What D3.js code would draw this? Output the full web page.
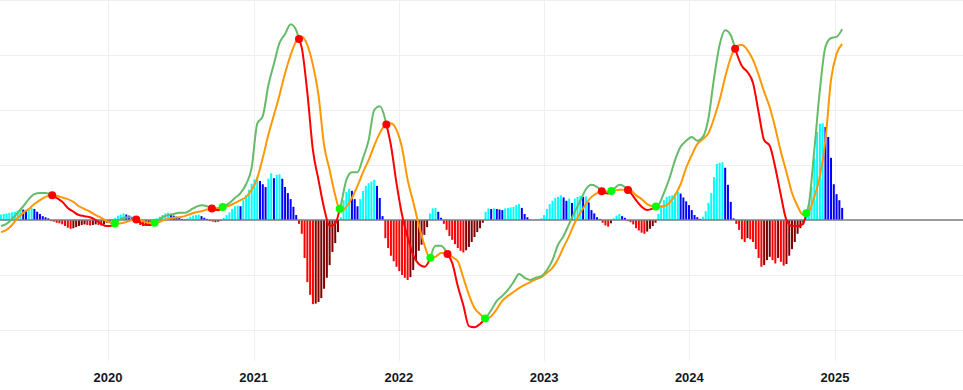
<!DOCTYPE html>
<html><head><meta charset="utf-8">
<script src="https://cdn.jsdelivr.net/npm/d3@7"></script>
<style>html,body{margin:0;padding:0;background:#fff;} svg{display:block;}</style>
</head><body><svg id="chart" width="963" height="390"></svg>
<script>
// ---- data ----
const histStart = "2019-04-07";          // first weekly histogram bar
const histogram = [
 1.0,1.1,1.2,1.3,1.4,1.5,1.7,2.0,1.9,1.8,
 2.1,2.2,2.0,1.5,1.1,0.7,0.5,0.3,-0.2,-0.3,
 -0.5,-0.6,-0.8,-1.1,-1.4,-1.6,-1.5,-1.3,-1.1,-0.9,
 -0.8,-0.9,-1.0,-0.9,-0.8,-0.9,-1.0,-0.8,-0.5,-0.3,
 0.2,0.4,0.8,1.0,1.2,1.0,0.8,0.4,0.1,-0.5,
 -0.9,-1.1,-1.0,-0.7,-0.5,-0.2,0.3,0.6,0.9,1.2,
 1.3,1.0,0.8,0.6,0.4,0.2,0.1,0.3,0.6,0.8,
 0.9,1.0,0.7,0.4,0.2,-0.2,-0.3,-0.4,-0.3,-0.1,
 0.4,0.9,1.4,2.0,2.5,2.6,2.5,3.6,4.5,5.5,
 6.6,7.4,7.8,7.1,6.5,6.0,7.5,8.5,7.6,8.2,
 8.3,7.5,6.0,4.9,3.8,2.4,0.9,-0.7,-2.5,-6.9,
 -11.3,-13.6,-15.3,-15.2,-14.9,-14.2,-12.5,-10.5,-8.2,-5.8,
 -4.2,-2.2,0.5,3.6,5.1,5.7,5.3,3.8,2.5,3.8,
 5.3,6.2,6.7,7.0,7.3,6.2,4.0,0.7,-3.3,-5.1,
 -6.5,-7.5,-8.5,-9.3,-10.0,-10.5,-10.9,-10.4,-9.1,-7.3,
 -5.6,-4.5,-2.7,-1.3,1.2,2.1,2.2,1.5,0.4,-0.7,
 -1.8,-2.9,-3.6,-4.4,-5.1,-5.6,-5.9,-5.5,-4.9,-4.0,
 -3.1,-2.2,-1.5,-0.5,1.5,2.1,2.0,2.1,2.0,1.9,
 1.8,2.1,2.2,2.3,2.4,2.7,2.9,2.2,1.1,0.5,
 0.1,0.0,0.1,0.2,0.3,0.9,2.0,2.9,3.5,4.0,
 4.2,4.5,4.1,3.5,3.9,3.1,3.9,4.2,4.4,4.2,
 4.3,3.2,1.8,1.2,0.5,0.2,-0.5,-1.0,-1.2,-0.6,
 0.3,0.8,1.1,0.7,0.4,-0.2,-0.4,-0.8,-1.5,-1.9,
 -2.3,-2.5,-2.1,-1.6,-1.1,-0.5,1.1,2.7,3.6,4.2,
 4.4,4.5,4.8,5.1,4.8,4.1,3.4,2.7,1.8,0.9,
 0.5,0.2,0.6,1.6,3.1,4.9,7.8,10.2,10.4,10.5,
 9.5,6.4,3.3,0.3,-0.7,-1.8,-3.5,-4.0,-3.3,-3.5,
 -4.0,-5.3,-6.9,-8.5,-8.2,-7.3,-6.7,-7.3,-7.9,-6.9,
 -7.6,-8.3,-8.0,-6.5,-5.3,-4.0,-2.5,-1.5,-0.5,0.9,
 2.9,6.0,11.3,16.0,17.5,17.6,16.9,15.1,11.3,6.5,
 4.7,3.6,2.2
];
// fortnightly samples, starting on histStart
const macdLine = [
 -1.1,-0.7,0.2,1.3,2.5,3.8,4.7,4.9,4.9,4.6,
 4.0,3.3,2.2,1.5,0.9,0.7,0.5,0.0,-0.7,-1.1,
 -1.0,-0.2,0.4,0.5,0.3,-0.5,-0.9,-0.9,-0.2,0.5,
 0.9,1.1,1.3,1.3,1.8,2.4,2.7,2.5,2.0,1.8,
 2.5,3.1,4.0,4.9,6.5,9.5,17.5,18.9,24.5,28.4,
 32.2,33.8,35.6,34.5,31.3,23.1,12.7,7.3,2.2,-1.1,
 -0.7,2.7,7.3,8.7,8.7,11.3,14.5,20.0,20.7,18.2,
 13.6,6.7,0.9,-3.1,-6.4,-8.0,-8.5,-7.1,-4.7,-4.7,
 -5.9,-7.8,-12.0,-15.5,-19.3,-19.5,-18.9,-17.8,-16.4,-14.7,
 -13.8,-12.7,-11.3,-9.8,-10.5,-10.9,-10.5,-10.2,-9.1,-7.3,
 -4.5,-2.9,-0.7,1.5,3.5,5.6,6.4,6.0,5.1,4.8,
 5.6,6.4,6.0,5.0,3.6,2.4,1.8,2.1,2.7,4.9,
 7.6,10.9,13.3,14.4,15.1,14.4,15.1,18.5,25.8,31.8,
 34.5,33.6,30.5,28.0,26.9,24.9,19.6,14.5,13.5,9.5,
 4.5,0.0,-1.1,-1.1,-0.7,2.7,12.7,23.6,31.5,33.1,
 33.3,34.7
];
const signalLine = [
 -2.2,-1.8,-0.9,0.4,1.3,2.0,2.9,3.6,4.2,4.5,
 4.4,4.1,3.8,3.3,2.5,2.0,1.5,0.9,0.4,-0.2,
 -0.6,-0.7,-0.5,-0.2,0.1,0.0,-0.4,-0.5,-0.5,-0.1,
 0.2,0.4,0.5,0.7,1.1,1.4,1.6,1.9,2.1,2.2,
 2.4,2.6,3.1,3.6,4.2,5.5,7.6,11.3,15.5,19.1,
 22.7,26.7,30.0,32.5,33.3,31.8,28.2,22.7,13.6,9.1,
 4.5,1.5,2.4,4.0,6.2,8.7,10.9,13.5,15.8,17.3,
 17.6,16.4,13.1,7.3,3.3,-0.9,-4.5,-6.9,-6.7,-6.0,
 -6.1,-6.7,-7.5,-10.5,-13.6,-16.0,-17.1,-18.0,-17.5,-16.2,
 -14.7,-13.8,-13.1,-12.4,-11.8,-11.3,-10.8,-10.4,-9.6,-8.7,
 -7.1,-4.9,-2.9,-0.5,1.3,2.9,4.2,4.9,5.3,5.2,
 5.3,5.5,5.5,5.4,4.5,3.8,2.9,2.5,2.4,2.5,
 3.1,4.5,6.5,9.5,11.8,13.8,14.7,15.8,18.5,21.8,
 26.0,29.5,31.6,31.8,30.9,29.1,26.4,23.3,20.5,16.7,
 12.4,8.7,4.9,2.5,0.9,1.5,4.2,8.0,14.5,25.5,
 30.2,32.0
];
const yearTicks = ["2020","2021","2022","2023","2024","2025"];
const gridLevels = [-20,-10,10,20,30,40];

// ---- scales ----
const W = 963, H = 390, plotBottom = 361;
const parse = d3.utcParse("%Y-%m-%d");
const start = parse(histStart);
const histDates = histogram.map((_, i) => d3.utcDay.offset(start, 7 * i));
const lineDates = macdLine.map((_, j) => d3.utcDay.offset(start, 14 * j));
const x = d3.scaleUtc().domain([parse("2020-01-01"), parse("2025-01-01")]).range([108, 835]);
const y = d3.scaleLinear().domain([0, 40]).range([220, 0]);

const svg = d3.select("#chart");
svg.append("rect").attr("width", W).attr("height", H).attr("fill", "#fff");
svg.append("defs").append("clipPath").attr("id", "plot")
  .append("rect").attr("x", 0).attr("y", 0).attr("width", W).attr("height", plotBottom);

// grid
const grid = svg.append("g");
grid.selectAll("line.h").data(gridLevels).join("line")
  .attr("x1", 0).attr("x2", W).attr("y1", d => y(d) + 0.5).attr("y2", d => y(d) + 0.5)
  .attr("stroke", "#efefef").attr("stroke-width", 1);
grid.selectAll("line.v").data(yearTicks).join("line")
  .attr("x1", d => Math.round(x(parse(d + "-01-01"))) + 0.5)
  .attr("x2", d => Math.round(x(parse(d + "-01-01"))) + 0.5)
  .attr("y1", 0).attr("y2", plotBottom)
  .attr("stroke", "#efefef").attr("stroke-width", 1);

const plot = svg.append("g").attr("clip-path", "url(#plot)");

// histogram
function barColor(v, i) {
  const p = i > 0 ? histogram[i - 1] : v;
  if (v >= 0) return v >= p ? "#00ffff" : "#0000ff";
  return v <= p ? "#ff0000" : "#800000";
}
plot.append("g").selectAll("rect").data(histogram).join("rect")
  .attr("x", (d, i) => x(histDates[i]) - 1)
  .attr("width", 2)
  .attr("y", d => y(Math.max(d, 0)))
  .attr("height", d => Math.abs(y(d) - y(0)))
  .attr("fill", (d, i) => barColor(d, i));

// zero line
plot.append("line").attr("x1", 0).attr("x2", W).attr("y1", y(0)).attr("y2", y(0))
  .attr("stroke", "#787b86").attr("stroke-width", 1.5);

// signal line
const lineGen = d3.line().curve(d3.curveMonotoneX);
const sigPts = signalLine.map((v, j) => [x(lineDates[j]), y(v)]);
plot.append("path").attr("d", lineGen(sigPts)).attr("fill", "none")
  .attr("stroke", "#ff9800").attr("stroke-width", 2);

// fast line split at crossings
const runs = [], crosses = [];
let s0 = macdLine[0] - signalLine[0];
let cur = { pos: s0 >= 0, pts: [[x(lineDates[0]), y(macdLine[0])]] };
for (let j = 1; j < macdLine.length; j++) {
  const sa = macdLine[j - 1] - signalLine[j - 1], sb = macdLine[j] - signalLine[j];
  const pa = sa >= 0, pb = sb >= 0;
  const xa = x(lineDates[j - 1]), xb = x(lineDates[j]);
  if (pa !== pb) {
    const t = sa / (sa - sb);
    const cx = xa + t * (xb - xa);
    const cy = y(macdLine[j - 1] + t * (macdLine[j] - macdLine[j - 1]));
    if (cx > cur.pts[cur.pts.length - 1][0] + 0.05) cur.pts.push([cx, cy]);
    runs.push(cur);
    crosses.push({ x: cx, y: cy, up: pb });
    cur = { pos: pb, pts: [[cx, cy]] };
  }
  if (xb > cur.pts[cur.pts.length - 1][0] + 0.05) cur.pts.push([xb, y(macdLine[j])]);
}
runs.push(cur);
plot.append("g").selectAll("path").data(runs).join("path")
  .attr("d", r => lineGen(r.pts)).attr("fill", "none")
  .attr("stroke", r => r.pos ? "#66bb6a" : "#ff0000").attr("stroke-width", 2)
  .attr("stroke-linejoin", "round");

plot.append("g").selectAll("circle").data(crosses).join("circle")
  .attr("cx", d => d.x).attr("cy", d => d.y).attr("r", 4)
  .attr("fill", d => d.up ? "#00ff00" : "#ff0000");

// axis labels
svg.append("g").selectAll("text").data(yearTicks).join("text")
  .attr("x", d => x(parse(d + "-01-01")))
  .attr("y", 382)
  .attr("text-anchor", "middle")
  .attr("font-family", "'Liberation Sans', Arial, sans-serif")
  .attr("font-weight", "bold")
  .attr("font-size", 13)
  .attr("fill", "#131722")
  .text(d => d);
</script>
</body></html>
